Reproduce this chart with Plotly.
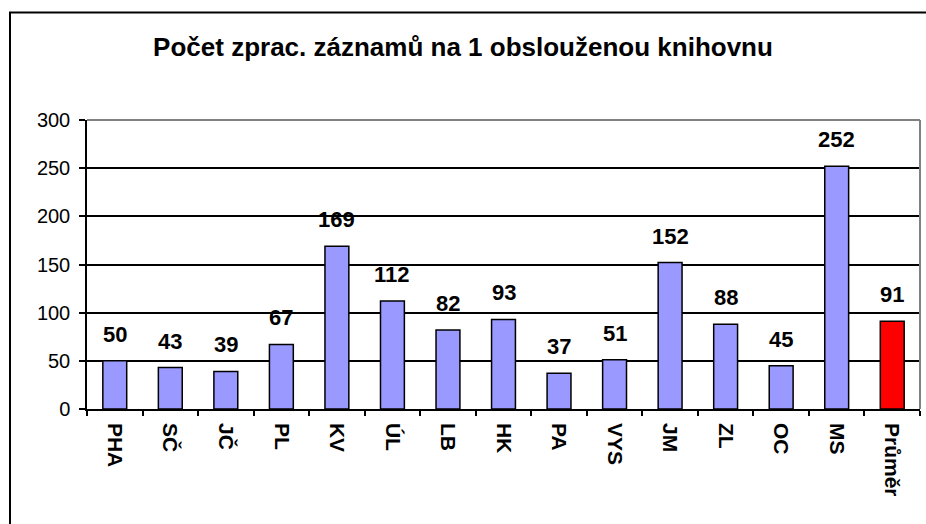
import plotly.graph_objects as go

categories = ["PHA", "SČ", "JČ", "PL", "KV", "ÚL", "LB", "HK", "PA", "VYS", "JM", "ZL", "OC", "MS", "Průměr"]
values = [50, 43, 39, 67, 169, 112, 82, 93, 37, 51, 152, 88, 45, 252, 91]
bar_colors = ["#9999FF"] * 14 + ["#FF0000"]
title_text = "Počet zprac. záznamů na 1 obslouženou knihovnu"
y_ticks = [0, 50, 100, 150, 200, 250, 300]

W, H = 926, 524
L, R, T, B = 87, 6, 120, 115

fig = go.Figure(go.Bar(
    x=categories, y=values,
    marker=dict(color=bar_colors, line=dict(color="black", width=1.5)),
    cliponaxis=False,
))

pw = W - L - R
ph = H - T - B
def px_x(x):
    return (x - L) / pw
def px_y(y):
    return (H - B - y) / ph

annotations = [
    dict(x=c, y=v, xref="x", yref="y", text="<b>%d</b>" % v, showarrow=False,
         yanchor="bottom", xanchor="center", yshift=12,
         font=dict(size=22, color="black", family="Liberation Sans, Arial"))
    for c, v in zip(categories, values)
]

fig.update_layout(
    width=W, height=H,
    margin=dict(l=L, r=R, t=T, b=B),
    paper_bgcolor="white", plot_bgcolor="white",
    bargap=0.57,
    showlegend=False,
    font=dict(family="Liberation Sans, Arial", color="black"),
    title=dict(text="<b>" + title_text + "</b>", x=463 / W, xref="container", xanchor="center",
               y=1 - 47 / H, yref="container", yanchor="middle", font=dict(size=26)),
    xaxis=dict(
        type="category", tickangle=90, showline=True, linecolor="black", linewidth=1.5,
        ticks="outside", ticklen=5, tickcolor="black", tickwidth=1.5,
        tickson="boundaries", showgrid=False, ticklabelstandoff=8,
        tickfont=dict(size=21, weight="bold"),
    ),
    yaxis=dict(
        range=[0, 300], tickvals=y_ticks, showline=True, linecolor="black", linewidth=1.5,
        ticks="outside", ticklen=6, tickcolor="black", tickwidth=1.5,
        showgrid=True, gridcolor="black", gridwidth=1.5, zeroline=False,
        ticklabelstandoff=5,
        tickfont=dict(size=20),
    ),
    annotations=annotations,
    shapes=[
        # outer chart border
        dict(type="rect", xref="paper", yref="paper",
             x0=px_x(10), x1=px_x(935), y0=px_y(540), y1=px_y(12.5),
             line=dict(color="black", width=2), fillcolor="rgba(0,0,0,0)", layer="above"),
        # grey plot frame top and right
        dict(type="line", xref="paper", yref="paper", x0=0, x1=1, y0=1, y1=1,
             line=dict(color="#808080", width=2), layer="above"),
        dict(type="line", xref="paper", yref="paper", x0=1, x1=1, y0=0, y1=1,
             line=dict(color="#808080", width=2), layer="above"),
    ],
)

fig.write_html("out.html", config={"displayModeBar": False},
               post_script="document.body.style.margin='0px';document.body.style.overflow='hidden';")
